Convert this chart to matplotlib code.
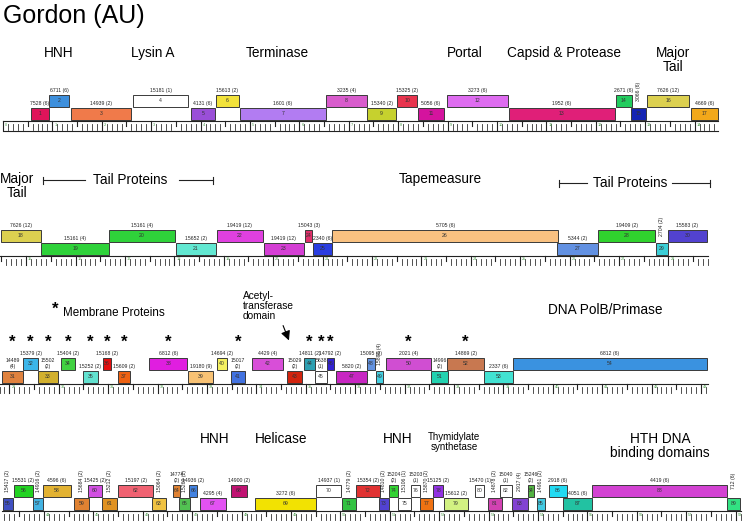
import numpy as np
import matplotlib.pyplot as plt
from matplotlib.patches import Rectangle

plt.rcParams['font.family'] = ['Liberation Sans', 'DejaVu Sans']

# gene coordinates in kb, gene n = index+1 (odd genes on lower tier, even on upper)
gene_start = [0.57, 0.93, 1.38, 2.63, 3.81, 4.31, 4.80, 6.54, 7.37, 7.98, 8.40, 8.99, 10.24, 12.41, 12.71, 13.04, 13.93,
              14.49, 15.30, 16.68, 18.03, 18.86, 19.81, 20.64, 20.81, 21.19, 25.75, 26.58, 27.75, 27.99,
              28.85, 29.28, 29.58, 30.04, 30.49, 30.89, 31.20, 31.83, 32.62, 33.20, 33.49, 33.91, 34.62, 34.96,
              35.19, 35.43, 35.61, 36.24, 36.42, 36.62, 37.53, 37.86, 38.61, 39.19,
              43.17, 43.39, 43.78, 43.98, 44.61, 44.89, 45.17, 45.50, 46.19, 46.61, 46.73, 46.94, 47.16, 47.79,
              48.27, 49.51, 50.03, 50.32, 50.78, 50.98, 51.17, 51.43, 51.61, 51.88, 52.10, 52.73, 52.99, 53.23,
              53.47, 53.80, 53.98, 54.22, 54.51, 55.09, 57.83]
gene_end = [0.93, 1.34, 2.59, 3.75, 4.29, 4.78, 6.54, 7.37, 7.96, 8.38, 8.93, 10.22, 12.39, 12.73, 13.02, 13.89, 14.47,
            15.30, 16.68, 18.01, 18.84, 19.79, 20.62, 20.79, 21.19, 25.77, 26.58, 27.73, 27.99, 28.78,
            29.28, 29.58, 29.98, 30.33, 30.79, 31.06, 31.44, 32.60, 33.12, 33.41, 33.77, 34.54, 34.92, 35.19,
            35.43, 35.57, 36.24, 36.40, 36.56, 37.53, 37.88, 38.61, 39.19, 43.12,
            43.37, 43.78, 43.98, 44.55, 44.91, 45.17, 45.48, 46.21, 46.47, 46.75, 46.96, 47.10, 47.68, 48.11,
            49.51, 50.01, 50.32, 50.80, 50.98, 51.17, 51.43, 51.61, 51.88, 52.08, 52.58, 52.91, 53.27, 53.47,
            53.80, 53.92, 54.14, 54.59, 55.09, 57.83, 58.09]
gene_pham = ["7528 (6)", "6711 (6)", "14939 (2)", "15181 (1)", "4131 (6)", "15613 (2)", "1601 (6)", "3235 (4)",
             "15340 (2)", "15325 (2)", "5056 (6)", "3273 (6)", "1952 (6)", "2671 (6)", "3066 (6)", "7626 (12)",
             "4669 (6)",
             "7626 (12)", "15161 (4)", "15161 (4)", "15652 (2)", "19419 (12)", "19419 (12)", "15043 (3)",
             "2340 (6)", "5705 (6)", "5344 (2)", "19409 (2)", "2704 (2)", "15583 (2)",
             "14489\n(4)", "15379 (2)", "15502\n(2)", "15404 (2)", "15252 (2)", "15168 (2)", "15609 (2)",
             "6812 (6)", "19180 (9)", "14694 (2)", "15017\n(2)", "4429 (4)", "15029\n(2)", "14811 (2)",
             "5638\n(1)", "14792 (2)", "5820 (2)", "15095 (2)", "15896 (4)", "2021 (4)", "14996\n(2)",
             "14869 (2)", "2337 (6)", "6812 (6)",
             "15417 (2)", "15531 (2)", "14916 (2)", "4596 (6)", "15684 (2)", "15425 (2)", "15212 (2)",
             "15197 (2)", "15064 (2)", "14774\n(2)", "15269 (2)", "14936 (2)", "4295 (4)", "14900 (2)",
             "3272 (6)", "14937 (1)", "14779 (2)", "15354 (2)", "14810 (2)", "15204\n(2)", "15106 (1)",
             "15203\n(1)", "15870 (2)", "15125 (2)", "15612 (2)", "15470 (1)", "14878 (2)", "15040\n(1)",
             "2917 (4)", "15246\n(2)", "14961 (2)", "2918 (6)", "4051 (6)", "4419 (6)", "712 (6)"]
gene_color = ["#e0145a", "#3d8fdc", "#f07a4a", "#ffffff", "#9a4fd8", "#f2e23a", "#b27cf2", "#d85ccc",
              "#c6d12e", "#e8344e", "#d4139e", "#de6cf0", "#e01f78", "#22cc5e", "#1424b4", "#dcd050",
              "#f2a81a",
              "#dcd050", "#2fd23a", "#2fd23a", "#62e8d2", "#e040e0", "#d43fd4", "#e0306a", "#2a3ee0",
              "#f9c181", "#6291e2", "#30d22e", "#3ccfd8", "#5242d0",
              "#e0823e", "#3cb6ea", "#d2b02e", "#42d242", "#62e2d0", "#e41010", "#ee6212", "#e01ee0",
              "#f8c274", "#f4f060", "#4272e0", "#d84ed8", "#d2240e", "#2ea0b2", "#ffffff", "#3222d2",
              "#c826c2", "#6292e0", "#44d0e2", "#d04ed2", "#22d2b0", "#c87850", "#42e2d2", "#3a92e0",
              "#4050c2", "#22d222", "#42b2e2", "#e2b232", "#e08232", "#d250e2", "#e09222", "#f06272",
              "#f0c242", "#e08232", "#52c252", "#4282e0", "#e252f2", "#c01272", "#f2e202", "#ffffff",
              "#32c242", "#e03232", "#5242d2", "#32d232", "#ffffff", "#ffffff", "#f07212", "#9232e2",
              "#d2f282", "#ffffff", "#d242b2", "#ffffff", "#8242d2", "#52b242", "#42cae2", "#22daf2",
              "#22c2a2", "#d242d2", "#32e282"]
vertical_labels = [15, 29, 49, 55, 57, 59, 61, 63, 65, 71, 73, 75, 77, 81, 83, 85, 89]
membrane_genes = [31, 32, 33, 34, 35, 36, 37, 38, 41, 44, 45, 46, 50, 52]

assert len(gene_start) == len(gene_end) == len(gene_pham) == len(gene_color) == 89

row_breaks = [0, 14.48, 28.8, 43.15, 58.1]
row_left = [-0.06, 14.47, 28.81, 43.11]     # kb at left edge of figure
row_base = [121, 256, 384, 511]             # baseline, pixels from top
px_per_kb = 49.4
W, H = 745, 523

fig = plt.figure(figsize=(W / 100, H / 100), dpi=100)
fig.text(3 / W, 1 - 15.5 / H, "Gordon (AU)", fontsize=18, ha='left', va='center')

axes = []
for r in range(4):
    ax = fig.add_axes([0, 1 - (row_base[r] + 12) / H, 1, 102 / H])
    ax.set_xlim(row_left[r], row_left[r] + W / px_per_kb)
    ax.set_ylim(-12, 90)
    ax.axis('off')
    axes.append(ax)

    # ruler
    a, b = row_breaks[r], row_breaks[r + 1]
    ax.plot([a, b], [0, 0], color='#222222', lw=0.8)
    if r == 0:
        ax.plot([a, b], [-9.5, -9.5], color='#222222', lw=0.8)
    for t10 in range(int(np.ceil(a * 10)), int(np.floor(b * 10)) + 1):
        t = t10 / 10
        if t10 % 10 == 0:
            ax.plot([t, t], [0, -9], color='#222222', lw=0.8)
            ax.text(t + 0.04, -1.5, str(t10 // 10), fontsize=2.8, color='#4a9a4a', ha='left', va='top')
        elif t10 % 5 == 0:
            ax.plot([t, t], [0, -4.5], color='#222222', lw=0.8)
        else:
            ax.plot([t, t], [-3, -8.5], color='#333333', lw=0.6)

# genes
for i in range(89):
    n = i + 1
    s, e = gene_start[i], gene_end[i]
    r = max(k for k in range(4) if s >= row_breaks[k])
    ax = axes[r]
    y0 = 14.5 if n % 2 == 0 else 1.5
    ax.add_patch(Rectangle((s, y0), e - s, 12, facecolor=gene_color[i], edgecolor='#3a3a3a', lw=0.7))
    xc = (s + e) / 2
    ax.text(xc, y0 + 6, str(n), fontsize=3.7, color='#333333', ha='center', va='center')
    if n in vertical_labels:
        ax.text(xc, 30, gene_pham[i], fontsize=3.7, rotation=90, ha='center', va='center', color='#222222')
    else:
        ax.text(xc, y0 + 13.5, gene_pham[i], fontsize=3.7, ha='center', va='bottom', color='#222222',
                linespacing=1.2)
    if n in membrane_genes:
        ax.text(xc, 37, "*", fontsize=12, fontweight='bold', ha='center', va='baseline')

# function labels
ax1, ax2, ax3, ax4 = axes
lab = dict(fontsize=9.8, ha='center', va='center')
ax1.text(1.134, 68, "HNH", **lab)
ax1.text(3.037, 68, "Lysin A", **lab)
ax1.text(5.547, 68, "Terminase", **lab)
ax1.text(9.353, 68, "Portal", **lab)
ax1.text(11.357, 68, "Capsid & Protease", **lab)
ax1.text(13.56, 61, "Major\nTail", linespacing=1.05, **lab)

ax2.text(14.82, 70, "Major\nTail", linespacing=1.05, **lab)
ax2.text(17.11, 76, "Tail Proteins", **lab)
ax2.text(23.38, 77, "Tapemeasure", **lab)
ax2.text(27.22, 73, "Tail Proteins", **lab)
for x1, x2, cap, yb in [(15.34, 16.19, 15.34, 76), (18.09, 18.78, 18.78, 76),
                        (25.79, 26.35, 25.79, 73), (28.07, 28.84, 28.84, 73)]:
    ax2.plot([x1, x2], [yb, yb], color='#222222', lw=0.8)
    ax2.plot([cap, cap], [yb - 3.5, yb + 3.5], color='#222222', lw=0.8)

ax3.text(29.92, 70, "*", fontsize=12, fontweight='bold', ha='center', va='baseline')
ax3.text(30.09, 71, "Membrane Proteins", fontsize=8.4, ha='left', va='center')
ax3.text(33.73, 78, "Acetyl-\ntransferase\ndomain", fontsize=7.3, ha='left', va='center', linespacing=1.05)
ax3.annotate("", xy=(34.68, 41), xytext=(34.52, 61),
             arrowprops=dict(arrowstyle='-|>', color='k', lw=0.8, mutation_scale=14))
ax3.text(41.06, 74, "DNA PolB/Primase", **lab)

ax4.text(47.46, 72, "HNH", **lab)
ax4.text(48.80, 72, "Helicase", **lab)
ax4.text(51.17, 72, "HNH", **lab)
ax4.text(52.30, 69, "Thymidylate\nsynthetase", fontsize=7, ha='center', va='center', linespacing=1.1)
ax4.text(56.47, 65, "HTH DNA\nbinding domains", fontsize=9.8, ha='center', va='center', linespacing=1.0)

fig.savefig("out.png", dpi=100)
